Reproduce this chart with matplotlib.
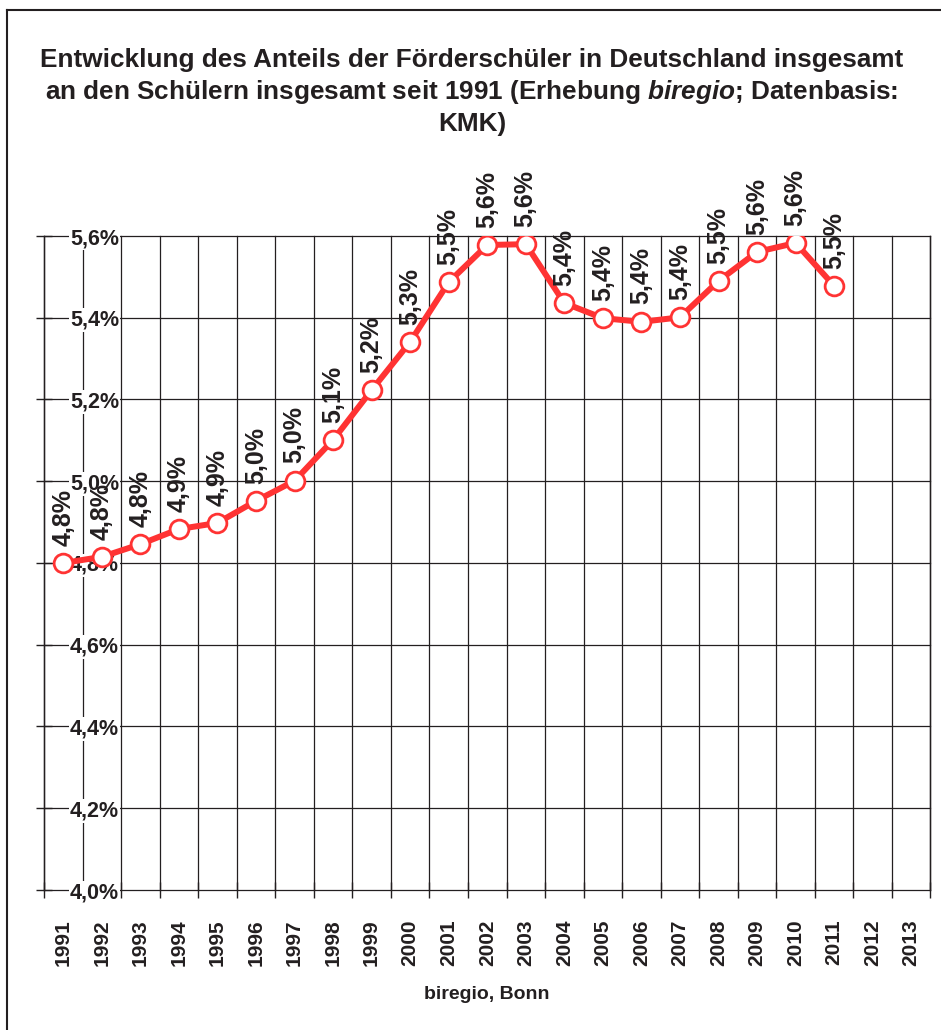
import matplotlib
matplotlib.use('Agg')
import matplotlib.pyplot as plt
from matplotlib.lines import Line2D

# ---------------- data ----------------
years = [str(y) for y in range(1991, 2014)]
share = [4.800, 4.815, 4.846, 4.883, 4.898, 4.952, 5.001, 5.101, 5.223, 5.341,
         5.487, 5.578, 5.580, 5.436, 5.399, 5.390, 5.401, 5.490, 5.561, 5.583,
         5.478]
y_ticks = [4.0, 4.2, 4.4, 4.6, 4.8, 5.0, 5.2, 5.4, 5.6]
title_lines = [
    "Entwicklung des Anteils der Förderschüler in Deutschland insgesamt",
    r"an den Schülern insgesamt seit 1991 (Erhebung $\mathit{biregio}$; Datenbasis:",
    "KMK)",
]
source_label = "biregio, Bonn"

# ---------------- style ----------------
RED = '#ff3333'
TXT = '#231f20'
plt.rcParams['font.family'] = ['Liberation Sans', 'DejaVu Sans']
plt.rcParams['font.weight'] = 'bold'
plt.rcParams['mathtext.fontset'] = 'custom'
plt.rcParams['mathtext.rm'] = 'Liberation Sans:bold'
plt.rcParams['mathtext.it'] = 'Liberation Sans:italic:bold'
plt.rcParams['mathtext.bf'] = 'Liberation Sans:bold'


def pct(v):
    return f"{v:.1f}".replace('.', ',') + '%'


W, H = 941, 1030
fig = plt.figure(figsize=(W / 100, H / 100), dpi=100)
fig.patch.set_facecolor('white')

# frame lines (top and left visible)
fig.add_artist(Line2D([7 / W, 1], [1 - 10 / H, 1 - 10 / H], transform=fig.transFigure,
                      color=TXT, lw=1.5))
fig.add_artist(Line2D([7 / W, 7 / W], [0, 1 - 10 / H], transform=fig.transFigure,
                      color=TXT, lw=1.5))

# title
for baseline_px, line in zip([67, 99, 131], title_lines):
    fig.text(472 / W, 1 - baseline_px / H, line, ha='center', va='baseline',
             fontsize=18.8, fontweight='bold', color=TXT)

ax = fig.add_axes([44 / W, 1 - 890 / H, (930.5 - 44) / W, (890 - 236) / H])
ax.set_axisbelow(True)

x = list(range(len(share)))
ax.plot(x, share, color=RED, lw=4.3, marker='o', ms=13.5, mfc='white',
        mec=RED, mew=2.0, zorder=4, solid_joinstyle='round')
for xi, v in zip(x, share):
    ax.annotate(pct(v), (xi, v), xytext=(0, 12.5), textcoords='offset points',
                rotation=90, ha='center', va='bottom', fontsize=18,
                fontweight='bold', color=TXT, zorder=5)

ax.set_xlim(-0.5, len(years) - 0.5)
ax.set_ylim(4.0, 5.6)

ax.set_xticks([i - 0.5 for i in range(len(years) + 1)])
ax.set_xticklabels([])
ax.set_xticks(range(len(years)), minor=True)
ax.set_xticklabels(years, minor=True, rotation=90, fontsize=15,
                   fontweight='bold', color=TXT, va='top', ha='center')
ax.tick_params(axis='x', which='major', direction='inout', length=12, width=1,
               color=TXT)
ax.tick_params(axis='x', which='minor', length=0, pad=21)

ax.set_yticks(y_ticks)
ax.set_yticklabels([pct(t) for t in y_ticks], fontsize=15.5, fontweight='bold',
                   color=TXT)
ax.tick_params(axis='y', direction='inout', length=12, width=1, color=TXT,
               pad=-42.4)
for lab in ax.get_yticklabels():
    lab.set_ha('center')
    lab.set_bbox(dict(facecolor='white', edgecolor='none', pad=1))

ax.grid(True, which='major', color=TXT, lw=0.9)
for gl in ax.get_ygridlines() + ax.get_xgridlines():
    gl.set_clip_on(False)
ax.spines['top'].set_visible(False)
ax.spines['bottom'].set_visible(False)
ax.spines['left'].set_color(TXT)
ax.spines['right'].set_color(TXT)
ax.spines['left'].set_linewidth(1)
ax.spines['right'].set_linewidth(1)

fig.text(487 / W, 1 - 999 / H, source_label, ha='center', va='baseline',
         fontsize=14, fontweight='bold', color=TXT)

fig.savefig('out.png', dpi=100)
